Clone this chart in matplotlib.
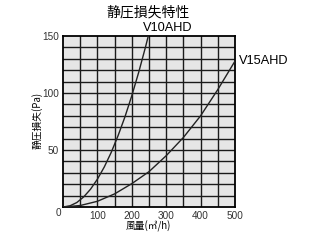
import matplotlib
matplotlib.use("Agg")
import matplotlib.pyplot as plt

# Data
q_v10 = [0, 20, 40, 60, 80, 100, 120, 140, 160, 180, 200, 220, 240, 250]
p_v10 = [0, 1.0, 3.9, 8.8, 15.6, 24.4, 35.1, 47.8, 62.5, 79.0, 97.6, 118.1, 140.5, 152.5]
q_v15 = [0, 50, 100, 150, 200, 250, 300, 350, 400, 450, 500]
p_v15 = [0, 1.3, 5.0, 11.5, 20.5, 31.0, 45.0, 61.0, 80.0, 103.0, 128.0]
series_names = ["V10AHD", "V15AHD"]
x_ticks = [100, 200, 300, 400, 500]
y_ticks = [50, 100, 150]
title = "静圧損失特性"
x_label = "風量(㎥/h)"
y_label = "静圧損失(Pa)"

cjk = ["Noto Sans CJK JP", "DejaVu Sans"]
lat = ["Liberation Sans", "DejaVu Sans"]

W, H = 320, 240
fig = plt.figure(figsize=(3.2, 2.4), dpi=100)
fig.patch.set_facecolor("white")
ax = fig.add_axes([63/W, 1-207/H, 172/W, 171/H])
ax.set_facecolor("#e6e6e6")
ax.set_xlim(0, 500)
ax.set_ylim(0, 150)

# grid
for x in range(50, 500, 50):
    ax.axvline(x, color="#1a1a1a", lw=1.0, zorder=1)
for y in range(10, 150, 10):
    ax.axhline(y, color="#1a1a1a", lw=1.0, zorder=1)

ax.plot(q_v10, p_v10, color="#222222", lw=1.0, zorder=3, clip_on=True)
ax.plot(q_v15, p_v15, color="#222222", lw=1.0, zorder=3, clip_on=True)

for s in ax.spines.values():
    s.set_linewidth(1.3)
    s.set_color("black")

ax.set_xticks(x_ticks)
ax.set_yticks(y_ticks)
ax.tick_params(length=0, pad=3, labelsize=7.2)
for lbl in ax.get_xticklabels() + ax.get_yticklabels():
    lbl.set_family(lat)
    lbl.set_color("#333333")
fig.text(58/W, 1-213/H, "0", ha="center", va="center",
         fontsize=7.2, family=lat, color="#333333")

fig.text(168/W, 1-28/H, series_names[0], ha="center", va="center", fontsize=9.2, family=lat)
fig.text(239/W, 1-61/H, series_names[1], ha="left", va="center", fontsize=9.2, family=lat)

fig.text(148/W, 1-12/H, title, ha="center", va="center", fontsize=10, family=cjk)
fig.text(148/W, 1-226/H, x_label, ha="center", va="center", fontsize=7, family=cjk)
fig.text(37/W, 1-120/H, y_label, ha="center", va="center", rotation=90, fontsize=7, family=cjk)

fig.savefig("out.png", dpi=100)
